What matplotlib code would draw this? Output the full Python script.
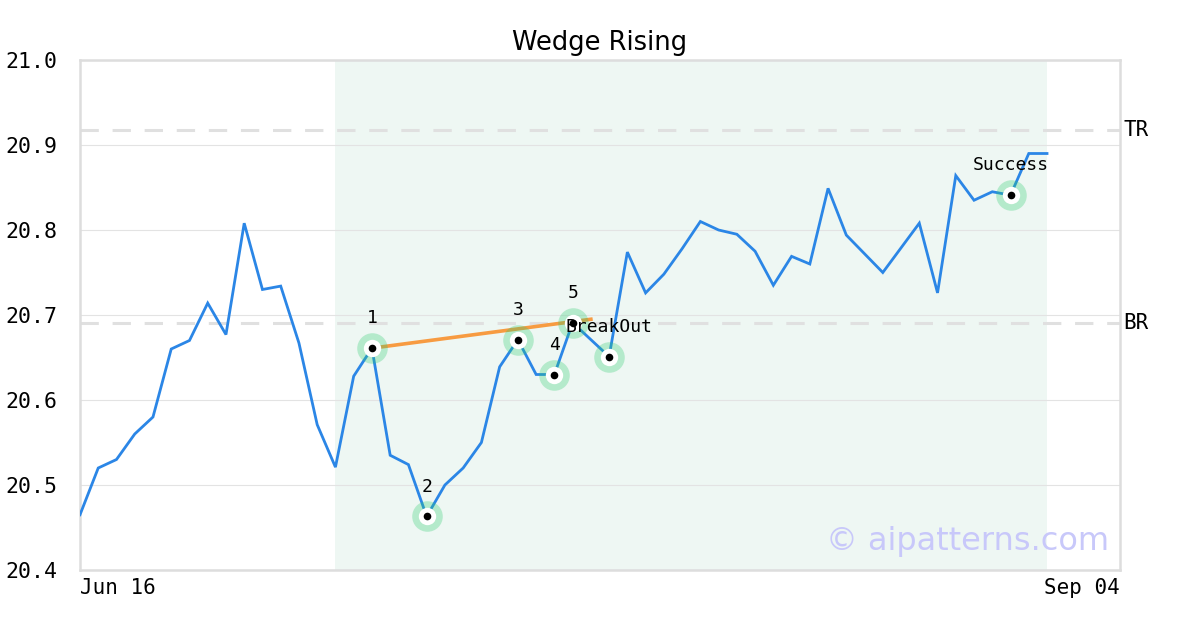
import matplotlib
matplotlib.use("Agg")
import matplotlib.pyplot as plt

# ---- data ----
values = [20.465, 20.520, 20.530, 20.560, 20.580, 20.660, 20.670, 20.714, 20.677, 20.808,
          20.730, 20.734, 20.667, 20.571, 20.521, 20.628, 20.661, 20.535, 20.524, 20.463,
          20.500, 20.520, 20.550, 20.639, 20.671, 20.630, 20.630, 20.691, 20.671, 20.651,
          20.774, 20.726, 20.748, 20.778, 20.810, 20.800, 20.795, 20.775, 20.735, 20.769,
          20.760, 20.849, 20.794, 20.772, 20.750, 20.779, 20.808, 20.726, 20.864, 20.835,
          20.845, 20.841, 20.890, 20.890]
x_idx = list(range(len(values)))
marker_idx = [16, 19, 24, 26, 27, 29, 51]
marker_labels = ["1", "2", "3", "4", "5", "BreakOut", "Success"]
trend_x = [16, 28]
trend_y = [20.661, 20.695]
shade_range = [14, 53]
tr_level = 20.918
br_level = 20.690
xtick_pos = [0, 57]
xtick_labels = ["Jun 16", "Sep 04"]
yticks = [20.4, 20.5, 20.6, 20.7, 20.8, 20.9, 21.0]

# ---- figure ----
fig = plt.figure(figsize=(12, 6.3), dpi=100)
ax = fig.add_axes([80/1200, 60/630, 1040/1200, 510/630])

ax.set_xlim(0, 57)
ax.set_ylim(20.4, 21.0)

ax.axvspan(shade_range[0], shade_range[1], color="#eef7f3", zorder=0, lw=0)

ax.set_yticks(yticks)
ax.yaxis.grid(True, color="#e3e3e3", lw=0.8, zorder=1)
ax.xaxis.grid(False)

ax.axhline(tr_level, color="#e0e0e0", lw=2.2, ls=(0, (6, 4.5)), zorder=1)
ax.axhline(br_level, color="#e0e0e0", lw=2.2, ls=(0, (6, 4.5)), zorder=1)

ax.plot(x_idx, values, color="#2b86e6", lw=2.0, zorder=3, solid_joinstyle="miter")
ax.plot(trend_x, trend_y, color="#f79b41", lw=2.6, zorder=4)

mx = [x_idx[i] for i in marker_idx]
my = [values[i] for i in marker_idx]
ax.scatter(mx, my, s=22**2, color="#2ecc71", alpha=0.3, lw=0, zorder=5)
ax.scatter(mx, my, s=12.5**2, color="white", lw=0, zorder=6)
ax.scatter(mx, my, s=5.5**2, color="black", lw=0, zorder=7)

for xi, yi, lab in zip(mx, my, marker_labels):
    ax.annotate(lab, (xi, yi), xytext=(0, 21.5), textcoords="offset points",
                ha="center", va="center", family="DejaVu Sans Mono", fontsize=13,
                color="black", zorder=8)

ax.text(1.003, (tr_level - 20.4) / 0.6, "TR", transform=ax.transAxes, ha="left", va="center",
        family="DejaVu Sans Mono", fontsize=15, color="black")
ax.text(1.003, (br_level - 20.4) / 0.6, "BR", transform=ax.transAxes, ha="left", va="center",
        family="DejaVu Sans Mono", fontsize=15, color="black")

ax.text(0.99, 0.055, "© aipatterns.com", transform=ax.transAxes, ha="right", va="center",
        family="DejaVu Sans", fontsize=23, color="#c8c8fa", zorder=9)

ax.set_xticks(xtick_pos)
ax.set_xticklabels(xtick_labels, family="DejaVu Sans Mono", fontsize=15)
labs = ax.get_xticklabels()
labs[0].set_ha("left")
labs[1].set_ha("right")
ax.set_yticklabels([f"{v:.1f}" for v in yticks], family="DejaVu Sans Mono", fontsize=15.5)
ax.tick_params(axis="both", length=0)
ax.tick_params(axis="y", pad=16)
ax.tick_params(axis="x", pad=6)

for s in ax.spines.values():
    s.set_color("#dddddd")
    s.set_linewidth(1.8)

ax.set_title("Wedge Rising", family="DejaVu Sans", fontsize=18.5, pad=7)

fig.savefig("out.png", dpi=100)
